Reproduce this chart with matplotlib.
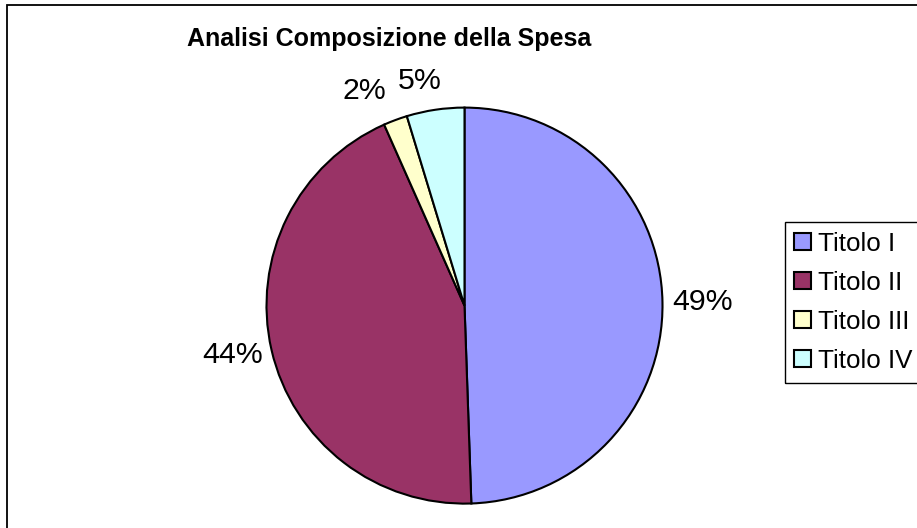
import matplotlib
matplotlib.use('Agg')
import matplotlib.pyplot as plt
from matplotlib.patches import Rectangle
import numpy as np

# ---- data ----
categories = ['Titolo I', 'Titolo II', 'Titolo III', 'Titolo IV']
values = [49.45, 43.9, 1.95, 4.7]
colors = ['#9999FF', '#993366', '#FFFFCC', '#CCFFFF']
title = 'Analisi Composizione della Spesa'

# label nudges (pixels, x right / y down) mimicking Excel's overlap avoidance
label_nudge = [(0, 0), (0, 0), (-20, -7), (-11, -5)]

plt.rcParams['font.family'] = ['Liberation Sans', 'DejaVu Sans']

W, H = 917, 528
fig = plt.figure(figsize=(W / 100, H / 100), dpi=100)
fig.patch.set_facecolor('white')

# outer chart frame (cropped at right / bottom)
fig.add_artist(Rectangle((6.7 / W, -0.1), 2, 1 - 5 / H + 0.1,
                         transform=fig.transFigure, fill=False,
                         ec='black', lw=1.3))

# pie axes
cx, cy, R = 464.5, 305.6, 198.0
pad = 1.03
ax = fig.add_axes([(cx - R * pad) / W, (H - cy - R * pad) / H,
                   2 * R * pad / W, 2 * R * pad / H])
wedges, _ = ax.pie(values, colors=colors, startangle=90, counterclock=False,
                   wedgeprops=dict(edgecolor='black', linewidth=1.5))
ax.set_xlim(-pad, pad)
ax.set_ylim(-pad, pad)
ax.set_aspect('equal')

# percentage labels, Excel-like outside end placement
total = sum(values)
renderer = fig.canvas.get_renderer()
gap = 10.0
for w, v, (nx, ny) in zip(wedges, values, label_nudge):
    th = np.deg2rad((w.theta1 + w.theta2) / 2)
    ux, uy = np.cos(th), np.sin(th)
    t = ax.text(0, 0, f'{v / total * 100:.0f}%', fontsize=21.8,
                ha='center', va='center')
    bb = t.get_window_extent(renderer)
    a, b = bb.width / 2, bb.height / 2
    px = ux * (R + gap) + a * ux + nx
    py = uy * (R + gap) + b * uy - ny
    t.set_position((px / R, py / R))

# title
fig.text(187 / W, 1 - 45.7 / H, title, fontsize=18, fontweight='bold',
         ha='left', va='baseline')

# legend (frame drawn separately so it runs off the right edge like the source)
leg = fig.legend(wedges, categories, loc='upper left',
                 bbox_to_anchor=(784.5 / W, 1 - 222 / H),
                 bbox_transform=fig.transFigure,
                 fontsize=18.7, frameon=False,
                 handlelength=0.65, handleheight=0.65, handletextpad=0.25,
                 labelspacing=0.577, borderpad=0.38, borderaxespad=0)
fig.canvas.draw()
lb = leg.get_window_extent(fig.canvas.get_renderer())
fig.add_artist(Rectangle((lb.x0 / W, lb.y0 / H), 1.0, lb.height / H,
                         transform=fig.transFigure, fill=False,
                         ec='black', lw=1.0, zorder=0))

fig.savefig('out.png', dpi=100, facecolor='white')
